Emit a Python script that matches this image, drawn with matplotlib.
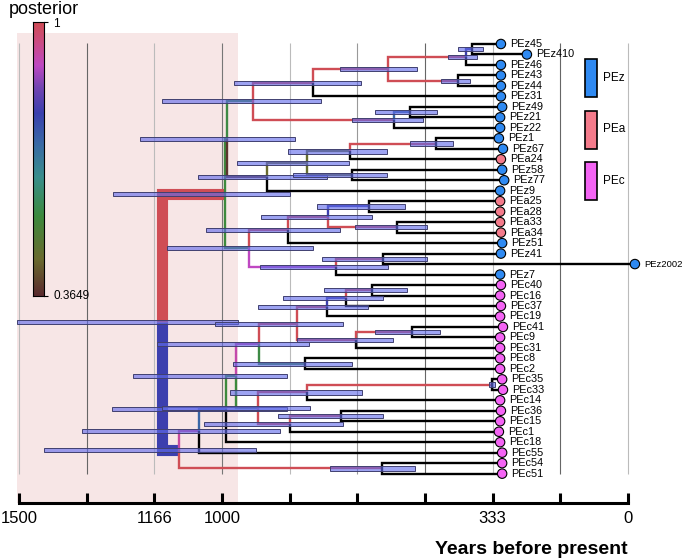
import numpy as np
import matplotlib.pyplot as plt
from matplotlib.colors import LinearSegmentedColormap
from matplotlib.patches import Rectangle

plt.rcParams['font.family'] = ['Liberation Sans', 'DejaVu Sans']

# tips, top to bottom
tip_names = ['PEz45', 'PEz410', 'PEz46', 'PEz43', 'PEz44', 'PEz31', 'PEz49', 'PEz21',
             'PEz22', 'PEz1', 'PEz67', 'PEa24', 'PEz58', 'PEz77', 'PEz9', 'PEa25',
             'PEa28', 'PEa33', 'PEa34', 'PEz51', 'PEz41', 'PEz2002', 'PEz7', 'PEc40',
             'PEc16', 'PEc37', 'PEc19', 'PEc41', 'PEc9', 'PEc31', 'PEc8', 'PEc2',
             'PEc35', 'PEc33', 'PEc14', 'PEc36', 'PEc15', 'PEc1', 'PEc18', 'PEc55',
             'PEc54', 'PEc51']
tip_ages = [313, 249, 313, 313, 313, 313, 310, 315, 315, 318, 308, 313, 310, 305, 315,
            315, 315, 315, 313, 310, 313, -17, 315, 313, 315, 313, 315, 308, 315, 315,
            315, 315, 310, 308, 315, 313, 315, 318, 315, 310, 310, 310]

# internal nodes
node_names = ['root', 'F', 'G', 'C', 'B', 'A', 'a2', 'a1', 'a3', 'D', 'E', 'L', 'J', 'H',
              'I', 'K', 'M', 'O', 'Q', 'P', 'R', 'T', 'S', 'U', 'V', 'W', 'Y', 'Z7', 'Z4',
              'Z3', 'Z2', 'Z1', 'Z6', 'Z5', 'Z8', 'Z9', 'Z13', 'Z12', 'Z11', 'Z10', 'X']
node_kids = [('F', 'U'), ('G', 'M'), ('C', 'L'), ('B', 'D'), ('A', 'PEz31'), ('a2', 'a3'),
             ('a1', 'PEz46'), ('PEz45', 'PEz410'), ('PEz43', 'PEz44'), ('E', 'PEz22'),
             ('PEz49', 'PEz21'), ('J', 'PEz9'), ('H', 'K'), ('I', 'PEa24'), ('PEz1', 'PEz67'),
             ('PEz58', 'PEz77'), ('O', 'T'), ('Q', 'PEz51'), ('P', 'R'), ('PEa25', 'PEa28'),
             ('PEa33', 'PEa34'), ('S', 'PEz7'), ('PEz41', 'PEz2002'), ('V', 'X'),
             ('W', 'PEc55'), ('Y', 'PEc18'), ('Z7', 'Z9'), ('Z4', 'Z8'), ('Z3', 'Z6'),
             ('Z2', 'PEc19'), ('Z1', 'PEc37'), ('PEc40', 'PEc16'), ('Z5', 'PEc31'),
             ('PEc41', 'PEc9'), ('PEc8', 'PEc2'), ('Z13', 'Z11'), ('Z12', 'PEc14'),
             ('PEc35', 'PEc33'), ('Z10', 'PEc1'), ('PEc36', 'PEc15'), ('PEc54', 'PEc51')]
node_ages = [1148, 993, 988, 924, 776, 591, 399, 384, 419, 576, 537, 889, 791, 685,
             473, 680, 933, 837, 739, 638, 569, 719, 603, 1106, 1057, 990, 966, 909, 815,
             741, 695, 631, 670, 532, 796, 911, 791, 335, 833, 707, 606]
hpd_old = [1505, 1268, 1202, 1148, 970, 709, 443, 419, 461, 680, 623, 1059, 963, 837,
           537, 825, 1135, 1039, 904, 766, 672, 906, 754, 1438, 1345, 1271, 1219, 1160,
           1017, 911, 850, 749, 815, 623, 973, 1148, 980, 342, 1044, 862, 734]
hpd_young = [961, 833, 820, 756, 658, 520, 372, 357, 389, 505, 470, 741, 687, 594,
             431, 594, 776, 709, 631, 549, 495, 591, 495, 916, 857, 840, 840, 786,
             702, 640, 603, 544, 579, 463, 680, 783, 655, 328, 702, 603, 525]
# posterior of the branch above each node (nan = black)
branch_post = [np.nan, 1.0, 0.55, 0.56, 1.0, 1.0, 1.0, 0.79, 1.0, 1.0, 0.72, 0.38, 0.45,
               0.46, 1.0, 0.46, 0.55, 1.0, 1.0, 0.79, 1.0, 0.9, 1.0, 0.79, 0.93, 0.72,
               0.55, 0.92, 1.0, 1.0, 0.79, 1.0, 1.0, 1.0, 0.56, 0.55, 1.0, 1.0, 1.0, 1.0,
               1.0]

post_min = 0.3649
group_colors = {'PEz': '#2f8af2', 'PEa': '#f47b8b', 'PEc': '#f464f4'}

cmap = LinearSegmentedColormap.from_list('post', [
    (0.0, '#5a2a2e'), (0.134, '#6a6a2e'), (0.291, '#3d8a3d'), (0.433, '#3a8e8c'),
    (0.559, '#3a68a6'), (0.669, '#3b3fae'), (0.764, '#7445b2'), (0.843, '#bf48c2'),
    (0.937, '#cc4c7c'), (1.0, '#cf4d55')])


def col(v):
    if np.isnan(v):
        return 'black'
    return cmap((v - post_min) / (1 - post_min))


# build lookup tables
age = dict(zip(tip_names, tip_ages))
age.update(zip(node_names, node_ages))
kids = dict(zip(node_names, node_kids))
post = {n: np.nan for n in tip_names}
post.update(zip(node_names, branch_post))
parent = {}
for n, k in kids.items():
    for c in k:
        parent[c] = n

ypos = {n: i for i, n in enumerate(tip_names)}


def set_y(n):
    if n in ypos:
        return ypos[n]
    ypos[n] = np.mean([set_y(c) for c in kids[n]])
    return ypos[n]


set_y('root')

fig = plt.figure(figsize=(6.85, 5.59), dpi=100)
W, H = 685, 559
ax = fig.add_axes([0, (H - 503) / H, 1, 503 / H])
ax.set_xlim(1546.8, -140.4)
ax.set_ylim(43.80, -4.198)

# root HPD shading
r = node_names.index('root')
ax.add_patch(Rectangle((hpd_young[r], -1.05), hpd_old[r] - hpd_young[r], 44.85,
                       facecolor='#f7e6e6', edgecolor='none', zorder=0))

ticks = np.linspace(0, 1500, 10)
grid_cols = ['#bbbbbb', '#666666', '#bbbbbb', '#777777', '#bbbbbb', '#999999',
             '#666666', '#bbbbbb', '#666666', '#bbbbbb'][::-1]
ax.vlines(ticks, -0.1, 41.05, colors=grid_cols, lw=0.8, zorder=1)

# branches
for n, p in parent.items():
    xs = [age[p], age[p], age[n]]
    ys = [ypos[p], ypos[n], ypos[n]]
    lw = 8 if p == 'root' else 1.7
    ax.plot(xs, ys, color=col(post[n]), lw=lw, solid_joinstyle='miter',
            solid_capstyle='butt', zorder=2)

# HPD bars
ys = [ypos[n] for n in node_names]
ax.barh(ys, np.array(hpd_old) - np.array(hpd_young), left=hpd_young, height=0.4,
        color=(0.38, 0.42, 0.92, 0.62), edgecolor='#404070', linewidth=0.7, zorder=3)

# tips
tc = [group_colors[t[:3]] for t in tip_names]
ax.scatter(tip_ages, [ypos[t] for t in tip_names], s=46, c=tc, edgecolors='black',
           linewidths=0.8, zorder=4)
for t in tip_names:
    fs = 6.8 if len(t) > 6 else 7.8
    ax.annotate(t, (age[t], ypos[t]), xytext=(6.8, 0), textcoords='offset points',
                ha='left', va='center', fontsize=fs)

# x axis
for s in ['left', 'top', 'right']:
    ax.spines[s].set_visible(False)
ax.spines['bottom'].set_bounds(0, 1500)
ax.spines['bottom'].set_linewidth(2.2)
ax.set_yticks([])
ax.set_xticks(ticks)
ax.set_xticklabels(['0', '', '333', '', '', '', '1000', '1166', '', '1500'])
ax.tick_params(axis='x', direction='in', length=7.5, width=2.2, labelsize=12, pad=6)
ax.text(0, 48.19, 'Years before present', ha='right', va='center', fontsize=14,
        fontweight='bold')

# legend
for i, g in enumerate(['PEz', 'PEa', 'PEc']):
    top = 59 + i * 51.5
    fig.add_artist(Rectangle((585 / W, 1 - (top + 38) / H), 12 / W, 38 / H,
                             facecolor=group_colors[g], edgecolor='black', lw=1.2,
                             transform=fig.transFigure))
    fig.text(603 / W, 1 - (top + 19) / H, g, fontsize=8.5, va='center', ha='left')

# colour bar
cax = fig.add_axes([33 / W, 1 - 296 / H, 11 / W, 274 / H])
grad = np.linspace(post_min, 1, 256)[:, None]
cax.imshow(grad, aspect='auto', cmap=cmap, origin='lower',
           extent=[0, 1, post_min, 1])
cax.set_xticks([])
cax.yaxis.tick_right()
cax.set_yticks([post_min, 1])
cax.set_yticklabels([])
cax.tick_params(axis='y', length=3, width=0.8)
for s in cax.spines.values():
    s.set_linewidth(0.8)
fig.text(53 / W, 1 - 18 / H, '1', fontsize=8.5, va='top', ha='left')
fig.text(53 / W, 1 - 296 / H, '0.3649', fontsize=8.5, va='center', ha='left')
fig.text(9 / W, 1 - 17.5 / H, 'posterior', fontsize=13, va='bottom', ha='left')

fig.savefig('out.png', dpi=100)
